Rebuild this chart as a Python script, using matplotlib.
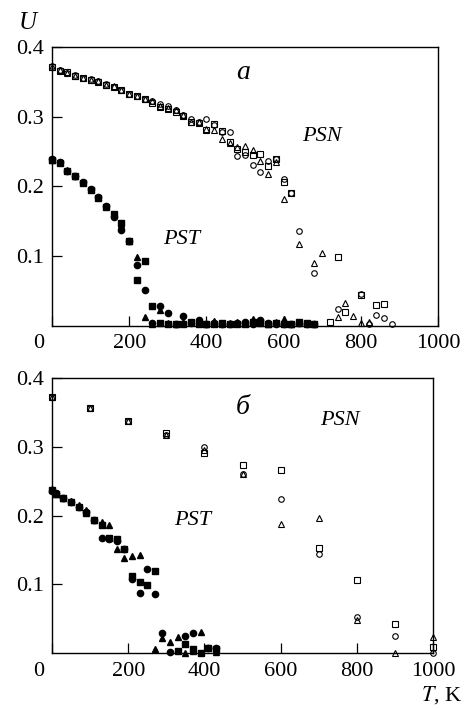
import matplotlib
matplotlib.use("Agg")
import matplotlib.pyplot as plt
import matplotlib.transforms as mtransforms

plt.rcParams['font.family'] = ['Liberation Serif', 'DejaVu Serif']
plt.rcParams['mathtext.fontset'] = 'stix'

# ---- panel a: PSN (open markers) ----
psn_a_circ_T = [0, 20, 40, 60, 80, 100, 120, 140, 160, 180, 200, 220, 240, 260, 280, 300, 320, 340, 360, 380,
                400, 420, 440, 460, 480, 500, 520, 540, 560, 580, 600, 620, 640, 680, 740, 800, 820, 840, 860, 880]
psn_a_circ_U = [0.373, 0.367, 0.363, 0.360, 0.356, 0.354, 0.351, 0.347, 0.343, 0.339, 0.333, 0.329, 0.326, 0.322,
                0.318, 0.315, 0.310, 0.303, 0.297, 0.293, 0.296, 0.288, 0.278, 0.278, 0.243, 0.245, 0.230, 0.221,
                0.237, 0.239, 0.211, 0.191, 0.136, 0.075, 0.024, 0.045, 0.003, 0.015, 0.011, 0.003]

psn_a_sq_T = [0, 20, 40, 60, 80, 100, 120, 140, 160, 180, 200, 220, 240, 260, 280, 300, 320, 340, 360, 380,
              400, 420, 440, 460, 480, 500, 520, 540, 560, 580, 600, 620, 720, 740, 760, 800, 840, 860]
psn_a_sq_U = [0.372, 0.366, 0.364, 0.359, 0.355, 0.353, 0.350, 0.346, 0.342, 0.338, 0.332, 0.329, 0.325, 0.320,
              0.314, 0.311, 0.307, 0.301, 0.292, 0.291, 0.281, 0.290, 0.280, 0.264, 0.254, 0.250, 0.245, 0.246,
              0.229, 0.239, 0.206, 0.190, 0.006, 0.098, 0.020, 0.044, 0.030, 0.031]

psn_a_tri_T = [0, 20, 40, 60, 80, 100, 120, 140, 160, 180, 200, 220, 240, 260, 280, 300, 320, 340, 360, 380,
               400, 420, 440, 460, 480, 500, 520, 540, 560, 580, 600, 640, 680, 700, 740, 760, 780, 800, 820]
psn_a_tri_U = [0.372, 0.367, 0.363, 0.359, 0.356, 0.353, 0.351, 0.346, 0.344, 0.338, 0.333, 0.330, 0.326, 0.322,
               0.316, 0.313, 0.309, 0.302, 0.292, 0.292, 0.283, 0.281, 0.268, 0.262, 0.256, 0.258, 0.252, 0.237,
               0.218, 0.235, 0.182, 0.117, 0.090, 0.105, 0.013, 0.032, 0.014, 0.004, 0.006]

# ---- panel a: PST (filled markers) ----
pst_a_T = [0, 20, 40, 60, 80, 100, 120, 140, 160, 180, 200, 220, 240, 260, 280, 300, 320, 340, 360, 380,
           400, 420, 440, 460, 480, 500, 520, 540, 560, 580, 600, 620, 640, 660, 680]
pst_a_circ_U = [0.239, 0.235, 0.222, 0.215, 0.206, 0.196, 0.184, 0.172, 0.156, 0.138, 0.122, 0.087, 0.051, 0.004,
                0.028, 0.018, 0.003, 0.014, 0.004, 0.008, 0.002, 0.004, 0.002, 0.003, 0.004, 0.005, 0.003, 0.008,
                0.004, 0.003, 0.003, 0.002, 0.004, 0.003, 0.003]
pst_a_sq_U = [0.238, 0.234, 0.222, 0.215, 0.205, 0.195, 0.183, 0.171, 0.161, 0.148, 0.121, 0.066, 0.093, 0.028,
              0.004, 0.003, 0.002, 0.003, 0.005, 0.003, 0.002, 0.003, 0.004, 0.002, 0.003, 0.003, 0.006, 0.005,
              0.003, 0.004, 0.003, 0.002, 0.005, 0.004, 0.003]
pst_a_tri_U = [0.238, 0.235, 0.223, 0.215, 0.206, 0.196, 0.185, 0.172, 0.160, 0.145, 0.122, 0.098, 0.012, 0.003,
               0.022, 0.004, 0.003, 0.005, 0.006, 0.004, 0.003, 0.007, 0.003, 0.004, 0.005, 0.006, 0.010, 0.004,
               0.003, 0.005, 0.009, 0.003, 0.004, 0.003, 0.002]

# ---- panel b: PSN (open markers) ----
psn_b_T = [0, 100, 200, 300, 400, 500, 600, 700, 800, 900, 1000]
psn_b_circ_U = [0.372, 0.356, 0.338, 0.317, 0.300, 0.260, 0.224, 0.145, 0.053, 0.025, 0.0]
psn_b_sq_U = [0.372, 0.356, 0.338, 0.320, 0.291, 0.274, 0.266, 0.153, 0.107, 0.042, 0.009]
psn_b_tri_U = [0.372, 0.356, 0.338, 0.317, 0.296, 0.260, 0.188, 0.196, 0.048, 0.0, 0.023]

# ---- panel b: PST (filled markers) ----
pst_b_circ_T = [0, 10, 30, 50, 70, 90, 110, 130, 150, 170, 190, 210, 230, 250, 270, 290, 310, 350, 370, 410, 430]
pst_b_circ_U = [0.236, 0.233, 0.225, 0.220, 0.213, 0.206, 0.193, 0.168, 0.166, 0.163, 0.151, 0.108, 0.088, 0.122,
                0.086, 0.029, 0.002, 0.025, 0.029, 0.008, 0.008]
pst_b_sq_T = [0, 10, 30, 50, 70, 90, 110, 130, 150, 170, 190, 210, 230, 250, 270, 330, 350, 370, 390, 410, 430]
pst_b_sq_U = [0.237, 0.232, 0.225, 0.220, 0.213, 0.204, 0.194, 0.186, 0.167, 0.166, 0.151, 0.113, 0.104, 0.099,
              0.119, 0.003, 0.013, 0.006, 0.001, 0.008, 0.006]
pst_b_tri_T = [0, 10, 30, 50, 70, 90, 110, 130, 150, 170, 190, 210, 230, 270, 290, 310, 330, 350, 370, 390, 430]
pst_b_tri_U = [0.239, 0.232, 0.226, 0.221, 0.216, 0.208, 0.193, 0.191, 0.187, 0.151, 0.139, 0.141, 0.143, 0.006,
               0.022, 0.017, 0.023, 0.001, 0.003, 0.031, 0.002]

fig = plt.figure(figsize=(4.68, 7.09), dpi=100)
ax1 = fig.add_axes([52 / 468, 1 - 325.7 / 709, 386 / 468, 278.7 / 709])
ax2 = fig.add_axes([52 / 468, 1 - 653.3 / 709, 381 / 468, 275.3 / 709])

open_kw = dict(linestyle='none', markerfacecolor='none', markeredgecolor='black',
               markeredgewidth=0.8, markersize=4, clip_on=False)
fill_kw = dict(linestyle='none', color='black', markersize=4.5, clip_on=False)

# panel a
ax1.plot(psn_a_circ_T, psn_a_circ_U, marker='o', **open_kw)
ax1.plot(psn_a_sq_T, psn_a_sq_U, marker='s', **open_kw)
ax1.plot(psn_a_tri_T, psn_a_tri_U, marker='^', **open_kw)
ax1.plot(pst_a_T, pst_a_circ_U, marker='o', **fill_kw)
ax1.plot(pst_a_T, pst_a_sq_U, marker='s', **fill_kw)
ax1.plot(pst_a_T, pst_a_tri_U, marker='^', **fill_kw)

# panel b
ax2.plot(psn_b_T, psn_b_circ_U, marker='o', **open_kw)
ax2.plot(psn_b_T, psn_b_sq_U, marker='s', **open_kw)
ax2.plot(psn_b_T, psn_b_tri_U, marker='^', **open_kw)
ax2.plot(pst_b_circ_T, pst_b_circ_U, marker='o', **fill_kw)
ax2.plot(pst_b_sq_T, pst_b_sq_U, marker='s', **fill_kw)
ax2.plot(pst_b_tri_T, pst_b_tri_U, marker='^', **fill_kw)

for ax in (ax1, ax2):
    ax.set_xlim(0, 1000)
    ax.set_ylim(0, 0.4)
    ax.set_xticks([0, 200, 400, 600, 800, 1000])
    ax.set_xticklabels(['0', '200', '400', '600', '800', '1000'])
    ax.set_yticks([0.1, 0.2, 0.3, 0.4])
    ax.set_yticklabels(['0.1', '0.2', '0.3', '0.4'])
    ax.tick_params(direction='in', length=7, width=0.9, labelsize=16, pad=6)
    for s in ax.spines.values():
        s.set_linewidth(1.0)
    # "0" label sits a bit left of the axis corner
    lbl = ax.get_xticklabels()[0]
    lbl.set_transform(lbl.get_transform() + mtransforms.ScaledTranslation(-0.13, 0, fig.dpi_scale_trans))

ax1.text(495, 0.363, 'a', fontsize=20, style='italic', ha='center', va='center')
ax1.text(700, 0.271, 'PSN', fontsize=16, style='italic', ha='center', va='center')
ax1.text(337, 0.123, 'PST', fontsize=16, style='italic', ha='center', va='center')

ax2.text(501, 0.357, 'б', fontsize=20, style='italic', ha='center', va='center')
ax2.text(756, 0.338, 'PSN', fontsize=16, style='italic', ha='center', va='center')
ax2.text(370, 0.193, 'PST', fontsize=16, style='italic', ha='center', va='center')

fig.text(28 / 468, 1 - 23 / 709, 'U', fontsize=18, style='italic', ha='center', va='center')
fig.text(462 / 468, 1 - 706 / 709, '$T$, K', fontsize=16, ha='right', va='bottom')

fig.savefig('out.png', dpi=100)
